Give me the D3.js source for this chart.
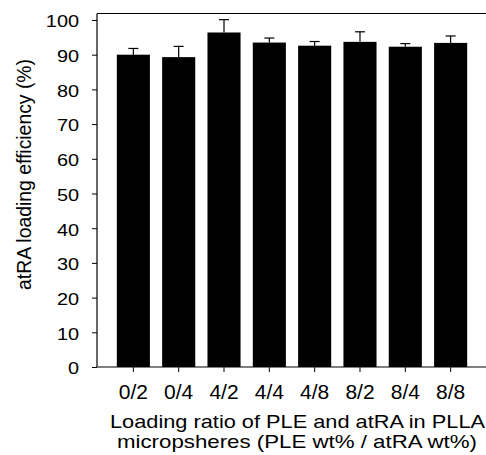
<!DOCTYPE html>
<html>
<head>
<meta charset="utf-8">
<script src="https://cdn.jsdelivr.net/npm/d3@7"></script>
<style>
  body { margin: 0; background: #fff; }
  svg { display: block; font-family: "Liberation Sans", Arial, sans-serif; }
</style>
</head>
<body>
<div id="chart"></div>
<script>
// groups (PLE wt% / atRA wt%)
const groups = ["0/2", "0/4", "4/2", "4/4", "4/8", "8/2", "8/4", "8/8"];
// loading efficiency (%) and SD (upper error bar)
const means = [90.0, 89.3, 96.4, 93.5, 92.6, 93.7, 92.3, 93.4];
const errs = [1.8, 3.1, 3.7, 1.3, 1.2, 2.9, 0.9, 2.0];
const yTicks = [0, 10, 20, 30, 40, 50, 60, 70, 80, 90, 100];

const data = groups.map((g, i) => ({ g: g, v: means[i], e: errs[i] }));

const W = 486, H = 455;
const plotLeft = 97, plotRight = 486, plotTop = 13.5, plotBottom = 367;

const svg = d3.select("#chart").append("svg")
    .attr("width", W)
    .attr("height", H);

const x = d3.scaleBand()
    .domain(groups)
    .range([110.7, 473.3])
    .paddingInner(0.27)
    .paddingOuter(0.135);

const y = d3.scaleLinear()
    .domain([0, 100])
    .range([plotBottom, 20]);

// stretch text horizontally like the scanned figure
function stretch(sel, k) {
    sel.each(function () {
        const w = this.getComputedTextLength();
        d3.select(this).attr("textLength", w * k).attr("lengthAdjust", "spacingAndGlyphs");
    });
}

// top frame line
svg.append("line").attr("x1", plotLeft).attr("x2", plotRight).attr("y1", plotTop).attr("y2", plotTop)
    .attr("stroke", "#000").attr("stroke-width", 1.2);

// bars
svg.selectAll(".bar")
    .data(data)
    .enter()
    .append("rect")
    .attr("class", "bar")
    .attr("x", d => x(d.g))
    .attr("y", d => y(d.v))
    .attr("width", x.bandwidth())
    .attr("height", d => y(0) - y(d.v))
    .attr("fill", "#000");

// error bars
const eb = svg.selectAll(".err")
    .data(data)
    .enter()
    .append("g")
    .attr("class", "err")
    .attr("stroke", "#000")
    .attr("stroke-width", 1.2);

eb.append("line")
    .attr("x1", d => x(d.g) + x.bandwidth() / 2)
    .attr("x2", d => x(d.g) + x.bandwidth() / 2)
    .attr("y1", d => y(d.v))
    .attr("y2", d => y(d.v + d.e));

eb.append("line")
    .attr("x1", d => x(d.g) + x.bandwidth() / 2 - 5)
    .attr("x2", d => x(d.g) + x.bandwidth() / 2 + 5)
    .attr("y1", d => y(d.v + d.e))
    .attr("y2", d => y(d.v + d.e));

// y axis
const yAxis = svg.append("g")
    .attr("transform", `translate(${plotLeft},0)`)
    .call(d3.axisLeft(y).tickValues(yTicks).tickSize(5).tickPadding(13));
yAxis.select(".domain").attr("d", `M0,${plotTop}V${plotBottom}`).attr("stroke-width", 1.2);
yAxis.selectAll("text")
    .attr("dy", "0.4em")
    .style("font-size", "17px")
    .style("fill", "#000")
    .call(stretch, 1.17);

// x axis
const xAxis = svg.append("g")
    .attr("transform", `translate(0,${plotBottom})`)
    .call(d3.axisBottom(x).tickSize(5).tickPadding(13));
xAxis.select(".domain").attr("d", `M${plotLeft},0H${plotRight}`).attr("stroke-width", 1.2);
xAxis.selectAll("text")
    .style("font-size", "20px")
    .style("fill", "#000")
    .call(stretch, 1.05);

// axis titles
svg.append("text")
    .attr("text-anchor", "middle")
    .attr("x", 297.5)
    .attr("y", 428)
    .attr("textLength", 375)
    .attr("lengthAdjust", "spacingAndGlyphs")
    .style("font-size", "18.5px")
    .text("Loading ratio of PLE and atRA in PLLA");

svg.append("text")
    .attr("text-anchor", "middle")
    .attr("x", 297)
    .attr("y", 448)
    .attr("textLength", 360)
    .attr("lengthAdjust", "spacingAndGlyphs")
    .style("font-size", "18.5px")
    .text("micropsheres (PLE wt% / atRA wt%)");

svg.append("text")
    .attr("text-anchor", "middle")
    .attr("transform", `translate(31,174.5) rotate(-90)`)
    .attr("textLength", 231)
    .attr("lengthAdjust", "spacingAndGlyphs")
    .style("font-size", "21px")
    .text("atRA loading efficiency (%)");
</script>
</body>
</html>
